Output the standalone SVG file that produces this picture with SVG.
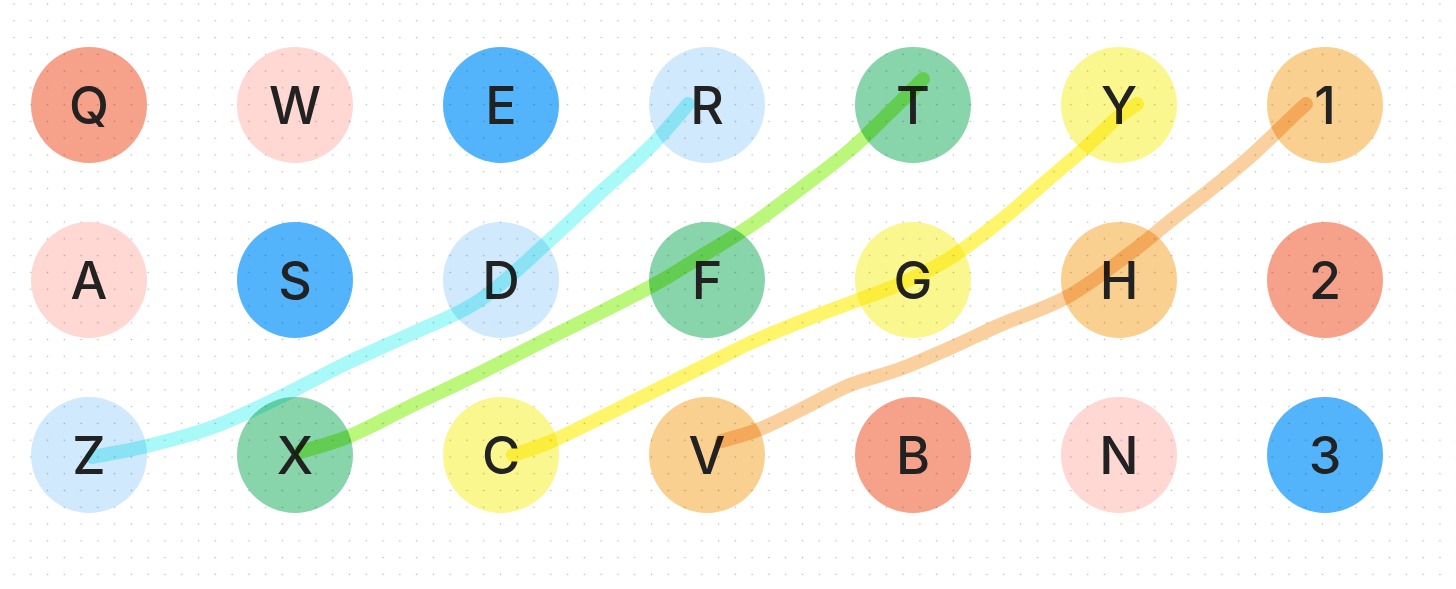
<svg xmlns="http://www.w3.org/2000/svg" width="1456" height="589" viewBox="0 0 1456 589">
  <defs>
    <pattern id="dots" x="5.612" y="-4.388" width="16.776" height="16.776" patternUnits="userSpaceOnUse">
      <circle cx="8.388" cy="8.388" r="0.8" fill="#b8b8b8"/>
    </pattern>
    <style>
      .n text { font-family: Inter, "Liberation Sans", sans-serif; font-size: 52px; font-weight: 500; fill: #222; text-anchor: middle; }
      .salmon { fill: #F6A18A; }
      .pink { fill: #FFD7D3; }
      .blue { fill: #53B4FC; }
      .lblue { fill: #D0E9FC; }
      .green { fill: #88D4AB; }
      .yellow { fill: #FBF78F; }
      .orange { fill: #F9D08F; }
      .c { fill: none; stroke-width: 14; stroke-linecap: round; stroke-linejoin: round; mix-blend-mode: multiply; }
    </style>
  </defs>
  <rect width="1456" height="589" fill="#ffffff"/>

  <g id="nodes">
    <g id="node-Q" class="n"><circle cx="89" cy="105" r="58" class="salmon"/><text x="89" y="124">Q</text></g>
    <g id="node-W" class="n"><circle cx="295" cy="105" r="58" class="pink"/><text x="295" y="124">W</text></g>
    <g id="node-E" class="n"><circle cx="501" cy="105" r="58" class="blue"/><text x="501" y="124">E</text></g>
    <g id="node-R" class="n"><circle cx="707" cy="105" r="58" class="lblue"/><text x="707" y="124">R</text></g>
    <g id="node-T" class="n"><circle cx="913" cy="105" r="58" class="green"/><text x="913" y="124">T</text></g>
    <g id="node-Y" class="n"><circle cx="1119" cy="105" r="58" class="yellow"/><text x="1119" y="124">Y</text></g>
    <g id="node-1" class="n"><circle cx="1325" cy="105" r="58" class="orange"/><text x="1325" y="124">1</text></g>

    <g id="node-A" class="n"><circle cx="89" cy="280" r="58" class="pink"/><text x="89" y="299">A</text></g>
    <g id="node-S" class="n"><circle cx="295" cy="280" r="58" class="blue"/><text x="295" y="299">S</text></g>
    <g id="node-D" class="n"><circle cx="501" cy="280" r="58" class="lblue"/><text x="501" y="299">D</text></g>
    <g id="node-F" class="n"><circle cx="707" cy="280" r="58" class="green"/><text x="707" y="299">F</text></g>
    <g id="node-G" class="n"><circle cx="913" cy="280" r="58" class="yellow"/><text x="913" y="299">G</text></g>
    <g id="node-H" class="n"><circle cx="1119" cy="280" r="58" class="orange"/><text x="1119" y="299">H</text></g>
    <g id="node-2" class="n"><circle cx="1325" cy="280" r="58" class="salmon"/><text x="1325" y="299">2</text></g>

    <g id="node-Z" class="n"><circle cx="89" cy="455" r="58" class="lblue"/><text x="89" y="474">Z</text></g>
    <g id="node-X" class="n"><circle cx="295" cy="455" r="58" class="green"/><text x="295" y="474">X</text></g>
    <g id="node-C" class="n"><circle cx="501" cy="455" r="58" class="yellow"/><text x="501" y="474">C</text></g>
    <g id="node-V" class="n"><circle cx="707" cy="455" r="58" class="orange"/><text x="707" y="474">V</text></g>
    <g id="node-B" class="n"><circle cx="913" cy="455" r="58" class="salmon"/><text x="913" y="474">B</text></g>
    <g id="node-N" class="n"><circle cx="1119" cy="455" r="58" class="pink"/><text x="1119" y="474">N</text></g>
    <g id="node-3" class="n"><circle cx="1325" cy="455" r="58" class="blue"/><text x="1325" y="474">3</text></g>
  </g>

  <rect x="0" y="0" width="1456" height="582" fill="url(#dots)" style="mix-blend-mode: multiply"/>

  <g id="connectors">
    <path id="Z-R" class="c" stroke="#A8F9F8" d="M92,457 C101.2,455.2 126.8,451 147,446 C167.2,441 190.8,435.2 213,427 C235.2,418.8 257.7,407.7 280,397 C302.3,386.3 324.8,373.7 347,363 C369.2,352.3 390.8,343.5 413,333 C435.2,322.5 457.2,315.5 480,300 C502.8,284.5 530,257.8 550,240 C570,222.2 583.3,208.5 600,193 C616.7,177.5 635.3,161.8 650,147 C664.7,132.2 681.7,111.2 688,104"/>
    <path id="X-T" class="c" stroke="#BAF77A" d="M300,452 C308.3,449.3 331.2,443.8 350,436 C368.8,428.2 391.3,415.5 413,405 C434.7,394.5 456.3,384.7 480,373 C503.7,361.3 526.7,349.3 555,335 C583.3,320.7 625.8,300 650,287 C674.2,274 683.3,267.2 700,257 C716.7,246.8 733.3,237.3 750,226 C766.7,214.7 783.3,201.7 800,189 C816.7,176.3 835,162.8 850,150 C865,137.2 877.8,123.8 890,112 C902.2,100.2 917.5,84.5 923,79"/>
    <path id="C-Y" class="c" stroke="#FFF56A" d="M513,455 C519.2,452.8 535.5,448.2 550,442 C564.5,435.8 583.3,426.2 600,418 C616.7,409.8 633.3,401.3 650,393 C666.7,384.7 683.3,376.3 700,368 C716.7,359.7 733.3,350.7 750,343 C766.7,335.3 783.3,328.7 800,322 C816.7,315.3 833.3,309.3 850,303 C866.7,296.7 883.3,291.5 900,284 C916.7,276.5 933.3,268.5 950,258 C966.7,247.5 983.3,234.3 1000,221 C1016.7,207.7 1035.8,190.2 1050,178 C1064.2,165.8 1073.8,158 1085,148 C1096.2,138 1108.3,125.3 1117,118 C1125.7,110.7 1133.7,106.3 1137,104"/>
    <path id="V-1" class="c" stroke="#F9D09E" d="M722,441 C728.3,439 747,434.2 760,429 C773,423.8 785,417.3 800,410 C815,402.7 833.3,391.8 850,385 C866.7,378.2 883.3,375.2 900,369 C916.7,362.8 933.3,355.3 950,348 C966.7,340.7 980.5,333.5 1000,325 C1019.5,316.5 1045.5,308.8 1067,297 C1088.5,285.2 1112,266.5 1129,254 C1146,241.5 1155.5,232.7 1169,222 C1182.5,211.3 1196.3,201 1210,190 C1223.7,179 1237.3,168.2 1251,156 C1264.7,143.8 1282.8,125.7 1292,117 C1301.2,108.3 1303.7,106.2 1306,104"/>
  </g>
</svg>
